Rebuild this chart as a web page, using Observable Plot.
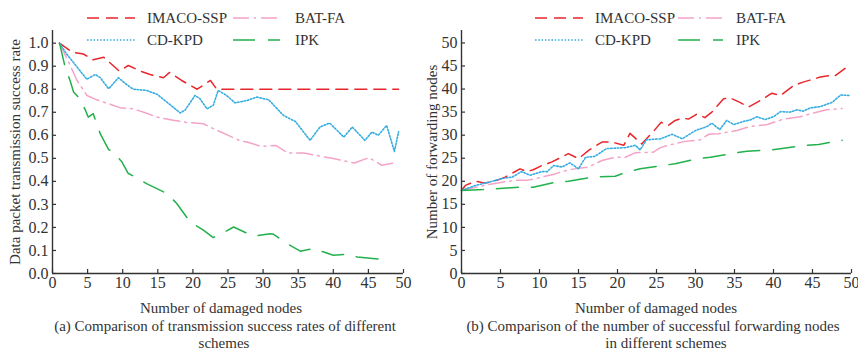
<!DOCTYPE html>
<html><head><meta charset="utf-8">
<script src="https://cdn.jsdelivr.net/npm/d3@7"></script>
<script src="https://cdn.jsdelivr.net/npm/@observablehq/plot@0.6"></script>
<style>
body{margin:0;background:#fff;width:858px;height:350px;overflow:hidden;position:relative;font-family:"Liberation Serif","Times New Roman",serif;color:#333;}
.t{position:absolute;white-space:nowrap;font-size:15px;line-height:16px;}
.c{transform:translateX(-50%);}
svg.sample{position:absolute;overflow:visible;}
</style></head><body>
<div id="left" style="position:absolute;left:0;top:0"></div>
<div id="right" style="position:absolute;left:410px;top:0"></div>
<div id="extra"></div>
<script>
// ---- data ----
const seriesNames = ["IMACO-SSP", "BAT-FA", "CD-KPD", "IPK"];
const dmgTicks = [0, 5, 10, 15, 20, 25, 30, 35, 40, 45, 50];
const rateTicks = [0.0, 0.1, 0.2, 0.3, 0.4, 0.5, 0.6, 0.7, 0.8, 0.9, 1.0];
const fwdTicks = [0, 5, 10, 15, 20, 25, 30, 35, 40, 45, 50];

// (a) transmission success rate
const imacoRateX = [1, 2.8, 4.4, 5.8, 7.3, 9.5, 10.8, 12.5, 13.9, 15.8, 16.7, 18.4, 20.6, 22.5, 23.4, 49.3];
const imacoRateY = [1.0, 0.961, 0.953, 0.928, 0.939, 0.879, 0.903, 0.879, 0.864, 0.85, 0.873, 0.838, 0.80, 0.838, 0.80, 0.80];
const cdkpdRateX = [1, 2.0, 3.5, 4.9, 6.1, 6.8, 8.0, 9.4, 10.4, 11.5, 13.4, 14.9, 16.3, 18.2, 18.9, 20.3, 21.0, 22.0, 22.9, 23.6, 24.8, 26.0, 27.7, 29.1, 30.8, 32.9, 34.6, 36.7, 38.1, 39.5, 41.5, 42.7, 44.5, 45.5, 46.4, 47.6, 48.7, 49.3];
const cdkpdRateY = [1.0, 0.954, 0.896, 0.843, 0.864, 0.85, 0.802, 0.85, 0.824, 0.80, 0.795, 0.778, 0.744, 0.697, 0.71, 0.773, 0.759, 0.715, 0.73, 0.795, 0.773, 0.741, 0.751, 0.766, 0.754, 0.686, 0.66, 0.578, 0.636, 0.653, 0.592, 0.636, 0.578, 0.614, 0.60, 0.643, 0.53, 0.615];
const batRateX = [1, 2.3, 3.5, 4.9, 6.3, 8.2, 9.6, 11.5, 13, 14.9, 17.2, 19.1, 21.5, 22.9, 24.6, 26.8, 27.7, 29.7, 31.8, 33.5, 35.8, 40, 43, 45.1, 46.9, 48.8];
const batRateY = [1.0, 0.918, 0.838, 0.773, 0.754, 0.735, 0.72, 0.715, 0.70, 0.679, 0.665, 0.656, 0.65, 0.629, 0.606, 0.575, 0.571, 0.552, 0.556, 0.523, 0.523, 0.499, 0.48, 0.503, 0.47, 0.481];
const ipkRateX = [1, 1.8, 2.5, 3, 3.9, 4.7, 5.1, 5.8, 6.8, 7.3, 8, 8.7, 9.9, 10.8, 12, 13.4, 16.3, 17.7, 19.6, 21.5, 22.9, 24.1, 25.8, 28.6, 31, 31.5, 33.4, 35.3, 37.2, 40, 42.2, 43.4, 48.1];
const ipkRateY = [1.0, 0.896, 0.838, 0.788, 0.759, 0.708, 0.679, 0.694, 0.607, 0.578, 0.538, 0.527, 0.484, 0.434, 0.416, 0.39, 0.347, 0.304, 0.224, 0.188, 0.156, 0.173, 0.202, 0.162, 0.173, 0.17, 0.13, 0.097, 0.108, 0.079, 0.084, 0.072, 0.058];

// (b) number of forwarding nodes
const imacoFwdX = [0, 0.5, 1.8, 3, 4.7, 5.6, 7.5, 8.4, 9.2, 10.3, 11.6, 13.7, 15, 16.3, 18, 19.3, 20.8, 21.6, 23.1, 24.7, 25.6, 26.5, 27.4, 28.3, 29.1, 30.2, 31.2, 32.1, 33.6, 34.4, 35.7, 36.8, 38.7, 39.8, 40.9, 42.6, 43.8, 46, 47.1, 47.9, 49.2];
const imacoFwdY = [18, 19.1, 20.0, 19.6, 20.3, 20.9, 22.7, 22.1, 22.5, 23.4, 24.2, 26.0, 24.9, 26.7, 28.5, 28.5, 27.8, 30.4, 28.1, 31.0, 32.8, 32.1, 33.2, 33.7, 33.5, 34.6, 33.8, 35.0, 37.9, 38.1, 37.1, 36.1, 37.9, 39.1, 38.6, 40.8, 41.5, 42.6, 42.9, 42.9, 44.5];
const cdkpdFwdX = [0, 1.8, 3.5, 5.2, 6.5, 7.7, 8.8, 10.3, 11, 11.8, 12.9, 13.9, 15, 15.9, 17.1, 18.6, 21, 22.3, 22.9, 23.7, 25.5, 27, 28.3, 30, 31.5, 32.1, 33.1, 34, 34.9, 36.2, 37, 37.9, 38.9, 40, 40.9, 42.1, 43, 43.8, 44.7, 46, 47.5, 48.6, 49.8];
const cdkpdFwdY = [18, 19.1, 19.8, 20.6, 20.9, 22.1, 21.3, 22.1, 22.1, 23.4, 23.1, 24.0, 22.7, 25.2, 25.4, 27.1, 27.3, 27.8, 26.8, 29.0, 29.2, 30.2, 29.2, 31.0, 31.9, 32.6, 31.2, 33.2, 32.3, 33.0, 33.3, 34.0, 33.4, 34.0, 35.1, 35.0, 35.5, 35.2, 35.9, 36.2, 37.1, 38.7, 38.6];
const batFwdX = [0, 1.8, 3.5, 5.2, 6.9, 8.4, 10.3, 12, 13.7, 16.3, 18, 19.7, 21, 22.3, 24.6, 25.5, 26.5, 28.5, 30.6, 31.7, 32.9, 35.3, 37, 39.2, 41.3, 43.4, 45.1, 46.8, 48.8];
const batFwdY = [18, 18.7, 19.3, 19.8, 20.2, 20.2, 20.9, 21.6, 22.5, 23.1, 24.5, 25.2, 25.2, 26.2, 26.3, 27.3, 27.8, 28.6, 29.0, 30.2, 30.3, 31.0, 31.9, 32.3, 33.5, 34.0, 34.8, 35.5, 35.8];
const ipkFwdX = [0, 2.8, 4.5, 7.3, 9.2, 12, 13.7, 16.7, 19.7, 21.2, 22.9, 25.7, 27.4, 30.2, 31.9, 34.9, 36.6, 39.6, 41.1, 44.1, 45.8, 48.8];
const ipkFwdY = [18, 18.2, 18.4, 18.7, 18.7, 19.8, 20.0, 20.9, 21.1, 22.0, 22.7, 23.4, 23.8, 24.9, 25.2, 26.1, 26.5, 26.8, 27.1, 27.8, 28.0, 28.9];

// ---- styles ----
const styles = {
  "IMACO-SSP": {stroke: "#e8262c", dash: "12,7", width: 1.5},
  "BAT-FA": {stroke: "#f4a3c8", dash: "16,5,2,5", width: 1.5},
  "CD-KPD": {stroke: "#35ade2", dash: "1.5,1.8", width: 1.6},
  "IPK": {stroke: "#22b14c", dash: "22,13", width: 1.5}
};
const FONT = '"Liberation Serif","Times New Roman",serif';

function rows(name, xs, ys) { return xs.map((x, i) => ({name, x, y: ys[i]})); }

function makeChart(sets, yDomain, yTicks, yFmt, yLabel, width, mL, mR, labelOffset) {
  const marks = [
    Plot.axisX({ticks: dmgTicks, tickSize: 4, insetBottom: 4, tickPadding: 3, label: null, stroke: "#333", strokeWidth: 1.2, fontSize: 16}),
    Plot.axisY({ticks: yTicks, tickSize: 4, insetLeft: 4, tickPadding: 4, tickFormat: yFmt, label: null, stroke: "#333", strokeWidth: 1.2, fontSize: 16}),
    Plot.axisY({ticks: [], tickSize: 0, label: yLabel, labelAnchor: "center", labelArrow: "none", labelOffset, fontSize: 15})
  ];
  for (const s of sets) {
    const st = styles[s.name];
    marks.push(Plot.line(rows(s.name, s.x, s.y), {x: "x", y: "y", stroke: st.stroke, strokeDasharray: st.dash, strokeWidth: st.width}));
  }
  marks.push(Plot.ruleY([yDomain[0]], {stroke: "#333", strokeWidth: 1.4}));
  marks.push(Plot.ruleX([0], {stroke: "#333", strokeWidth: 1.4}));
  return Plot.plot({
    width, height: 300, marginLeft: mL, marginRight: mR, marginTop: 30, marginBottom: 27,
    x: {domain: [0, 50]}, y: {domain: yDomain},
    style: {fontFamily: FONT, fontSize: "15px", color: "#333", background: "transparent", overflow: "visible"},
    marks
  });
}

document.getElementById("left").append(makeChart([
  {name: "IMACO-SSP", x: imacoRateX, y: imacoRateY},
  {name: "BAT-FA", x: batRateX, y: batRateY},
  {name: "CD-KPD", x: cdkpdRateX, y: cdkpdRateY},
  {name: "IPK", x: ipkRateX, y: ipkRateY}
], [0, 1.055], rateTicks, d3.format(".1f"), "Data packet transmission success rate", 420, 52, 17, 43));

document.getElementById("right").append(makeChart([
  {name: "IMACO-SSP", x: imacoFwdX, y: imacoFwdY},
  {name: "BAT-FA", x: batFwdX, y: batFwdY},
  {name: "CD-KPD", x: cdkpdFwdX, y: cdkpdFwdY},
  {name: "IPK", x: ipkFwdX, y: ipkFwdY}
], [0, 52.7], fwdTicks, d3.format("d"), "Number of forwarding nodes", 448, 51, 7, 35));

// ---- legends & captions ----
const extra = document.getElementById("extra");
function addText(txt, x, y, center) {
  const d = document.createElement("div");
  d.className = "t" + (center ? " c" : "");
  d.style.left = x + "px"; d.style.top = (y - 8) + "px";
  d.textContent = txt; extra.append(d);
}
function addSample(name, x1, x2, y) {
  const st = styles[name];
  const ns = "http://www.w3.org/2000/svg";
  const svg = document.createElementNS(ns, "svg");
  svg.setAttribute("class", "sample");
  svg.setAttribute("width", x2 - x1); svg.setAttribute("height", 4);
  svg.style.left = x1 + "px"; svg.style.top = (y - 2) + "px";
  const l = document.createElementNS(ns, "line");
  l.setAttribute("x1", 0); l.setAttribute("x2", x2 - x1); l.setAttribute("y1", 2); l.setAttribute("y2", 2);
  l.setAttribute("stroke", st.stroke); l.setAttribute("stroke-width", st.width); l.setAttribute("stroke-dasharray", st.dash);
  svg.append(l); extra.append(svg);
}
const legendRows = [["IMACO-SSP", "BAT-FA"], ["CD-KPD", "IPK"]];
const legendY = [18, 40];
for (const [ox, cols] of [[0, [[87, 135, 147], [233, 280, 295]]], [448, [[87, 135, 147], [230, 275, 288]]]]) {
  legendRows.forEach((r, ri) => {
    r.forEach((name, ci) => {
      const [a, b, t] = cols[ci];
      addSample(name, ox + a, ox + b, legendY[ri]);
      addText(name, ox + t, legendY[ri], false);
    });
  });
}
addText("Number of damaged nodes", 221, 308, true);
addText("(a) Comparison of transmission success rates of different", 225, 326, true);
addText("schemes", 224, 343, true);
addText("Number of damaged nodes", 656, 308, true);
addText("(b) Comparison of the number of successful forwarding nodes", 653, 326, true);
addText("in different schemes", 666, 343, true);
</script>
</body></html>
